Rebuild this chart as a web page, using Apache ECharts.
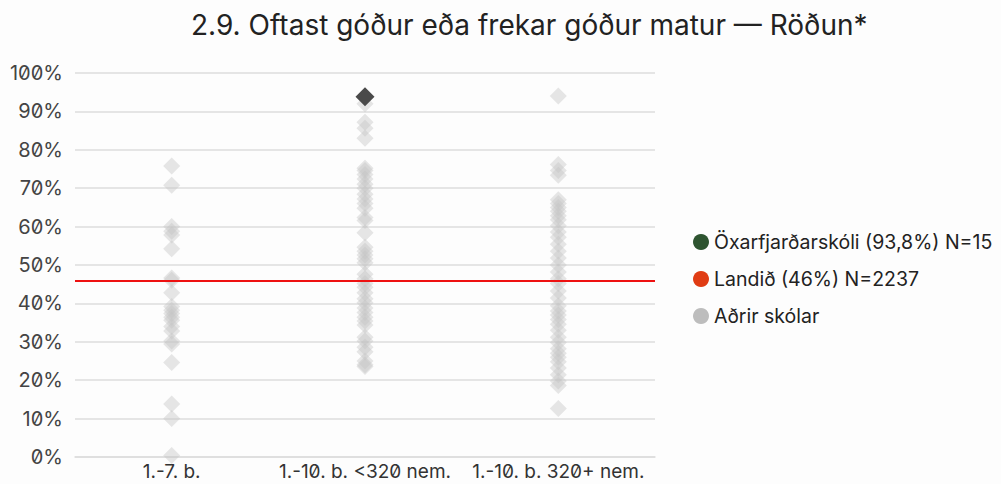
<!DOCTYPE html>
<html>
<head>
<meta charset="utf-8">
<script src="https://cdn.jsdelivr.net/npm/echarts@6/dist/echarts.min.js"></script>
<style>
  html, body { margin: 0; padding: 0; background: #fdfdfd; }
  #chart { width: 1001px; height: 484px; }
  #chart text { font-feature-settings: "zero" 1; }
</style>
</head>
<body>
<div id="chart"></div>
<script>
// School groups on the x axis
const categories = ['1.-7. b.', '1.-10. b. <320 nem.', '1.-10. b. 320+ nem.'];
const yTicks = [0, 10, 20, 30, 40, 50, 60, 70, 80, 90, 100];

// Other schools, share answering "mostly good or fairly good food" (%)
const group1 = [75.8, 70.8, 60.0, 58.8, 57.8, 54.2, 46.6, 46.0, 42.8, 39.2, 38.2, 37.4,
  36.4, 35.6, 34.0, 32.8, 30.2, 29.4, 24.6, 13.8, 10.0, 0.4];
const group2 = [92.0, 87.2, 85.6, 83.0, 75.2, 74.6, 73.6, 72.4, 71.0, 70.0, 68.4,
  67.2, 66.0, 64.8, 62.4, 61.6, 58.4, 54.6, 53.6, 52.6, 51.6, 50.6, 47.6,
  46.4, 45.2, 44.2, 42.8, 41.2, 40.2, 38.8, 37.6, 36.4, 35.4, 34.4,
  31.2, 30.2, 28.6, 27.4, 25.0, 24.0, 23.6];
const group3 = [94.0, 76.2, 74.6, 73.4, 67.0, 66.0, 65.0, 64.0, 62.8,
  61.8, 60.2, 58.6, 57.2, 55.4, 53.6, 51.8, 50.0, 48.2,
  46.4, 45.2, 43.2, 41.4, 39.4, 38.0, 37.0, 35.8, 34.6, 33.0,
  31.2, 29.8, 28.2, 27.0, 26.0, 24.8, 23.2, 21.4, 19.8, 18.6, 12.6];

// Highlighted school and national average
const schoolName = 'Öxarfjarðarskóli (93,8%) N=15';
const schoolGroup = 1;
const schoolValue = 93.8;
const nationName = 'Landið (46%) N=2237';
const nationValue = 46;
const othersName = 'Aðrir skólar';

const othersData = []
  .concat(group1.map(v => [0, v]))
  .concat(group2.map(v => [1, v]))
  .concat(group3.map(v => [2, v]));

const FONT = 'Inter, "Noto Sans", sans-serif';

const chart = echarts.init(document.getElementById('chart'), null, { renderer: 'svg' });
chart.setOption({
  animation: false,
  backgroundColor: '#fdfdfd',
  title: {
    text: '2.9. Oftast góður eða frekar góður matur — Röðun*',
    left: 186,
    top: 6,
    textStyle: { fontFamily: FONT, fontSize: 28, fontWeight: 'normal', color: '#222' }
  },
  legend: {
    orient: 'vertical',
    left: 688,
    top: 227,
    icon: 'circle',
    itemWidth: 16,
    itemHeight: 16,
    itemGap: 17,
    textStyle: { fontFamily: FONT, fontSize: 19.5, lineHeight: 20, color: '#222' },
    data: [
      { name: schoolName, itemStyle: { color: '#2e5430', opacity: 1, borderWidth: 0 } },
      { name: nationName, itemStyle: { color: '#e03c14', opacity: 1, borderWidth: 0 } },
      { name: othersName, itemStyle: { color: '#bdbdbd', opacity: 1, borderWidth: 0 } }
    ]
  },
  grid: { left: 75, right: 346, top: 73, bottom: 27, containLabel: false },
  xAxis: {
    type: 'category',
    data: categories,
    boundaryGap: true,
    axisLine: { show: true, lineStyle: { color: '#dddddd', width: 1.5 } },
    axisTick: { show: false },
    axisLabel: {
      fontFamily: FONT, fontSize: 19, color: '#333', margin: 5,
      interval: 0, hideOverlap: false
    },
    splitLine: { show: false }
  },
  yAxis: {
    type: 'value',
    min: yTicks[0],
    max: yTicks[yTicks.length - 1],
    interval: 10,
    axisLine: { show: false },
    axisTick: { show: false },
    axisLabel: {
      fontFamily: FONT, fontSize: 20, color: '#444', margin: 12,
      formatter: v => v + '%'
    },
    splitLine: { show: true, lineStyle: { color: '#dddddd', width: 1.5 } }
  },
  series: [
    {
      name: othersName,
      type: 'scatter',
      symbol: 'diamond',
      symbolSize: 17,
      itemStyle: { color: '#c4c4c4', opacity: 0.42 },
      data: othersData,
      z: 2
    },
    {
      name: nationName,
      type: 'scatter',
      data: [],
      itemStyle: { color: '#e03c14' },
      markLine: {
        silent: true,
        symbol: 'none',
        label: { show: false },
        lineStyle: { color: '#ee1111', width: 2, type: 'solid' },
        data: [{ yAxis: nationValue }]
      },
      z: 3
    },
    {
      name: schoolName,
      type: 'scatter',
      symbol: 'diamond',
      symbolSize: 19,
      itemStyle: { color: '#2e5430' },
      data: [{ value: [schoolGroup, schoolValue], itemStyle: { color: '#4a4a4a', opacity: 1 } }],
      z: 4
    }
  ]
});
</script>
</body>
</html>
